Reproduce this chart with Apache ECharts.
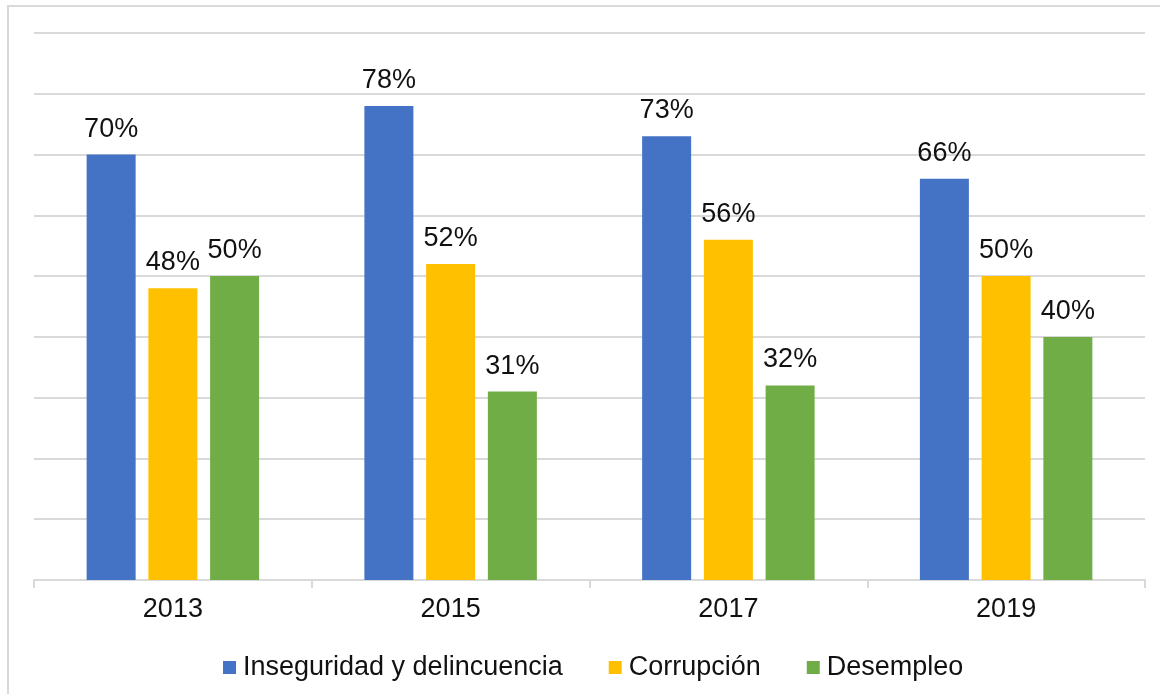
<!DOCTYPE html>
<html>
<head>
<meta charset="utf-8">
<script src="https://cdn.jsdelivr.net/npm/echarts@6/dist/echarts.min.js"></script>
<style>
  html, body { margin: 0; padding: 0; background: #fff; }
  #chart { width: 1160px; height: 694px; }
</style>
</head>
<body>
<div id="chart"></div>
<script>
// datos
const years = ['2013', '2015', '2017', '2019'];
const inseguridad = [70, 78, 73, 66];
const corrupcion = [48, 52, 56, 50];
const desempleo = [50, 31, 32, 40];
const seriesNames = ['Inseguridad y delincuencia', 'Corrupción', 'Desempleo'];

const FONT = '"Liberation Sans", Arial, sans-serif';
const myChart = echarts.init(document.getElementById('chart'));

const barSeries = (name, data, color) => ({
  name: name,
  type: 'bar',
  data: data,
  barWidth: 49,
  barGap: '26%',
  itemStyle: { color: color },
  label: {
    show: true,
    position: 'top',
    distance: 12,
    formatter: '{c}%',
    color: '#111',
    fontSize: 27,
    fontFamily: FONT,
  },
});

const options = {
  backgroundColor: '#fff',
  animation: false,
  graphic: [
    {
      // marco exterior
      type: 'rect',
      shape: { x: 8, y: 6, width: 1200, height: 800 },
      style: { fill: 'none', stroke: '#d9d9d9', lineWidth: 2 },
      silent: true,
    },
  ],
  grid: {
    left: 34,
    right: 15,
    top: 33,
    bottom: 114,
  },
  xAxis: {
    type: 'category',
    data: years,
    axisLine: { lineStyle: { color: '#d9d9d9', width: 2 } },
    axisTick: { show: true, length: 8, lineStyle: { color: '#d9d9d9', width: 2 } },
    axisLabel: { color: '#111', fontSize: 27, fontFamily: FONT, margin: 16 },
  },
  yAxis: {
    type: 'value',
    min: 0,
    max: 90,
    interval: 10,
    axisLabel: { show: false },
    axisLine: { show: false },
    axisTick: { show: false },
    splitLine: { lineStyle: { color: '#d9d9d9', width: 2 } },
  },
  legend: {
    data: seriesNames,
    left: 218,
    top: 649,
    icon: 'rect',
    itemWidth: 13,
    itemHeight: 13,
    itemGap: 46,
    textStyle: { color: '#111', fontSize: 27, fontFamily: FONT, padding: [0, 0, 0, 2] },
  },
  series: [
    barSeries(seriesNames[0], inseguridad, '#4472C4'),
    barSeries(seriesNames[1], corrupcion, '#FFC000'),
    barSeries(seriesNames[2], desempleo, '#70AD47'),
  ],
};
myChart.setOption(options);
</script>
</body>
</html>
